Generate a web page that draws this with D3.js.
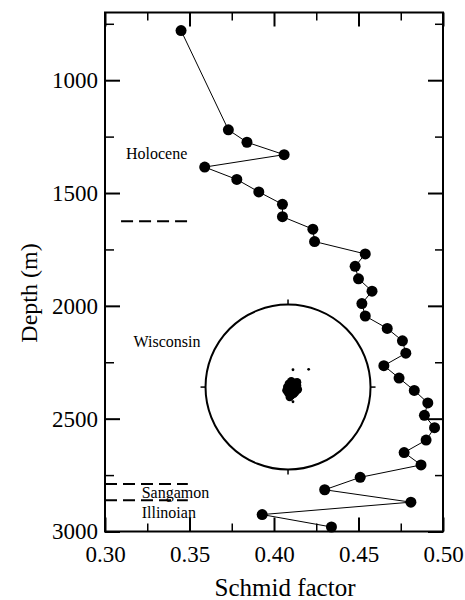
<!DOCTYPE html>
<html>
<head>
<meta charset="utf-8">
<script src="https://cdn.jsdelivr.net/npm/d3@7"></script>
<style>
  body { margin: 0; background: white; }
  text { font-family: "Liberation Serif", "Times New Roman", serif; fill: black; }
</style>
</head>
<body>
<div id="canvas"></div>
<script>
"use strict";

// Schmid factor vs depth (m)
const depths = [780, 1220, 1275, 1330, 1385, 1440, 1495, 1550, 1605, 1660, 1715, 1770,
  1825, 1880, 1935, 1990, 2045, 2100, 2155, 2210, 2265, 2320, 2375, 2430, 2485,
  2540, 2595, 2650, 2705, 2760, 2815, 2870, 2925, 2980];
const schmid = [0.345, 0.373, 0.384, 0.406, 0.359, 0.378, 0.391, 0.405, 0.405, 0.423,
  0.424, 0.454, 0.448, 0.450, 0.458, 0.452, 0.454, 0.467, 0.476, 0.478, 0.465, 0.474,
  0.483, 0.491, 0.489, 0.495, 0.490, 0.477, 0.487, 0.451, 0.430, 0.481, 0.393, 0.434];

// climate stage boundaries (depth, m)
const boundaries = [1625, 2790, 2862];
const stages = ["Holocene", "Wisconsin", "Sangamon", "Illinoian"];

// x ticks / y ticks
const xMajor = [0.30, 0.35, 0.40, 0.45, 0.50];
const xMinor = [0.325, 0.375, 0.425, 0.475];
const yMajor = [1000, 1500, 2000, 2500, 3000];
const yMinor = [750, 1250, 1750, 2250, 2750];

// c-axis poles in the inset (unit circle, y up)
const poleX = [0.03, 0.07, 0.10, 0.05, -0.01, 0.09, 0.12, 0.01, 0.04, 0.08, -0.02, 0.04,
  0.11, 0.03, 0.07, 0.00, 0.09, 0.05, 0.08, 0.06, 0.06, 0.25, 0.02, 0.11];
const poleY = [-0.02, 0.01, -0.01, -0.07, 0.00, -0.06, -0.03, 0.04, 0.07, 0.03, -0.04, -0.10,
  0.02, 0.01, -0.08, -0.07, 0.05, -0.01, -0.04, -0.178, 0.21, 0.215, -0.12, 0.06];

const W = 465, H = 600;
const mLeft = 105, mRight = 443, mTop = 12.5, mBottom = 531.5;

const svg = d3.select("#canvas").append("svg")
  .attr("width", W)
  .attr("height", H);

const x = d3.scaleLinear().domain([0.30, 0.50]).range([mLeft, mRight]);
const y = d3.scaleLinear().domain([700, 3000]).range([mTop, mBottom]);

// Axes (ticks point inward)
function styleAxis(g, w) {
  g.select(".domain").remove();
  g.selectAll(".tick line").attr("stroke", "black").attr("stroke-width", w);
}

svg.append("g").attr("transform", `translate(0,${mBottom})`)
  .call(d3.axisBottom(x).tickValues(xMajor).tickSize(-14).tickFormat(d3.format(".2f")))
  .call(g => styleAxis(g, 2))
  .call(g => g.selectAll(".tick text").attr("y", 30).attr("dy", 0)
    .attr("font-size", 23).attr("font-family", "Liberation Serif"));
svg.append("g").attr("transform", `translate(0,${mBottom})`)
  .call(d3.axisBottom(x).tickValues(xMinor).tickSize(-8).tickFormat(""))
  .call(g => styleAxis(g, 1.5));
svg.append("g").attr("transform", `translate(0,${mTop})`)
  .call(d3.axisTop(x).tickValues(xMajor).tickSize(-14).tickFormat(""))
  .call(g => styleAxis(g, 2));
svg.append("g").attr("transform", `translate(0,${mTop})`)
  .call(d3.axisTop(x).tickValues(xMinor).tickSize(-8).tickFormat(""))
  .call(g => styleAxis(g, 1.5));

svg.append("g").attr("transform", `translate(${mLeft},0)`)
  .call(d3.axisLeft(y).tickValues(yMajor).tickSize(-15).tickPadding(7).tickFormat(d3.format("d")))
  .call(g => styleAxis(g, 2))
  .call(g => g.selectAll(".tick text")
    .attr("font-size", 23).attr("font-family", "Liberation Serif"));
svg.append("g").attr("transform", `translate(${mLeft},0)`)
  .call(d3.axisLeft(y).tickValues(yMinor).tickSize(-9).tickFormat(""))
  .call(g => styleAxis(g, 1.5));
svg.append("g").attr("transform", `translate(${mRight},0)`)
  .call(d3.axisRight(y).tickValues(yMajor).tickSize(-15).tickFormat(""))
  .call(g => styleAxis(g, 2));
svg.append("g").attr("transform", `translate(${mRight},0)`)
  .call(d3.axisRight(y).tickValues(yMinor).tickSize(-8).tickFormat(""))
  .call(g => styleAxis(g, 1.5));

// Frame
svg.append("rect")
  .attr("x", mLeft).attr("y", mTop)
  .attr("width", mRight - mLeft).attr("height", mBottom - mTop)
  .attr("fill", "none")
  .attr("stroke", "black")
  .attr("stroke-width", 2);

// Axis titles
svg.append("text")
  .attr("x", 285).attr("y", 596)
  .attr("text-anchor", "middle")
  .attr("font-size", 25)
  .text("Schmid factor");

svg.append("text")
  .attr("transform", "translate(37,293) rotate(-90)")
  .attr("text-anchor", "middle")
  .attr("font-size", 24)
  .text("Depth (m)");

// Stage boundaries (dashed)
const dashStart = [0.3095, 0.30, 0.30];
svg.selectAll(".boundary")
  .data(boundaries)
  .enter().append("line")
  .attr("x1", (d, i) => x(dashStart[i]))
  .attr("x2", x(0.349))
  .attr("y1", d => y(d)).attr("y2", d => y(d))
  .attr("stroke", "black")
  .attr("stroke-width", 2)
  .attr("stroke-dasharray", "12,6");

// Stage labels
const stageX = [0.3124, 0.3169, 0.3217, 0.3217];
const stageY = [1348, 2182, 2851, 2941];
svg.selectAll(".stage")
  .data(stages)
  .enter().append("text")
  .attr("x", (d, i) => x(stageX[i]))
  .attr("y", (d, i) => y(stageY[i]))
  .attr("font-size", 16)
  .text(d => d);

// Pole figure inset
const inset = svg.append("g")
  .attr("transform", `translate(${x(0.4083)},${y(2360)})`);
const R = 82.5;
const pf = d3.scaleLinear().domain([-1, 1]).range([-R, R]);
const pfY = d3.scaleLinear().domain([-1, 1]).range([R, -R]);

inset.append("circle")
  .attr("r", R)
  .attr("fill", "none")
  .attr("stroke", "black")
  .attr("stroke-width", 2);

// small outward ticks on the inset circle
[[0, -1], [0, 1], [-1, 0], [1, 0]].forEach(([a, b]) => {
  inset.append("line")
    .attr("x1", a * R).attr("y1", b * R)
    .attr("x2", a * (R + 5)).attr("y2", b * (R + 5))
    .attr("stroke", "black")
    .attr("stroke-width", 1.5);
});

inset.selectAll(".pole")
  .data(poleX)
  .enter().append("circle")
  .attr("cx", d => pf(d))
  .attr("cy", (d, i) => pfY(poleY[i]))
  .attr("r", (d, i) => (i >= 19 && i <= 21) ? 1.4 : 4.2)
  .attr("fill", "black");

// Profile line
const line = d3.line()
  .x((d, i) => x(schmid[i]))
  .y(d => y(d));

svg.append("path")
  .datum(depths)
  .attr("d", line)
  .attr("fill", "none")
  .attr("stroke", "black")
  .attr("stroke-width", 1);

svg.selectAll(".pt")
  .data(depths)
  .enter().append("circle")
  .attr("cx", (d, i) => x(schmid[i]))
  .attr("cy", d => y(d))
  .attr("r", 5.5)
  .attr("fill", "black");
</script>
</body>
</html>
